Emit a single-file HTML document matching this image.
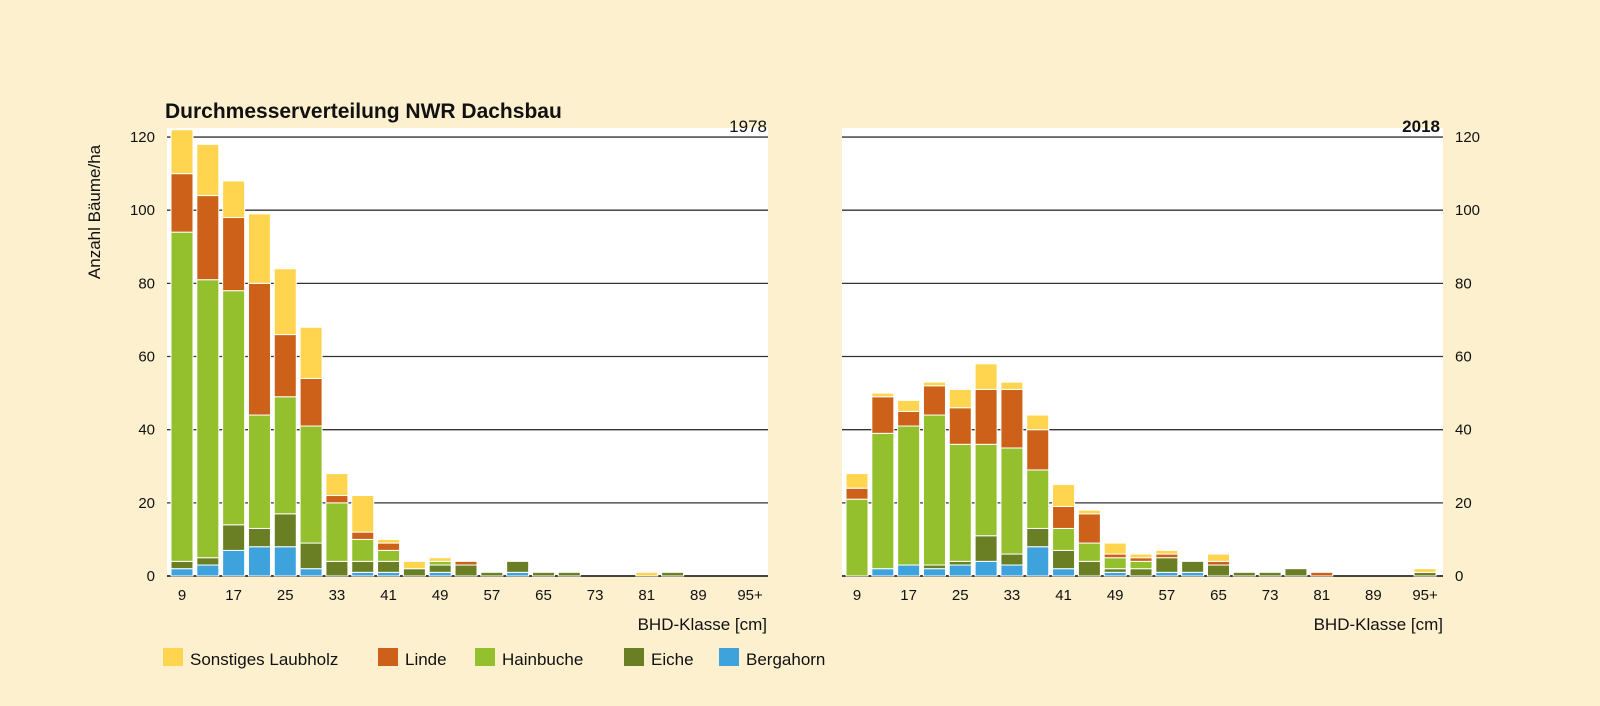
<!DOCTYPE html>
<html><head><meta charset="utf-8"><style>
html,body{margin:0;padding:0;background:#fdf0cf;}
svg{display:block;font-family:"Liberation Sans","DejaVu Sans",sans-serif;}
</style></head><body>
<svg id="s" width="1600" height="706" viewBox="0 0 1600 706" xmlns="http://www.w3.org/2000/svg">
<rect width="1600" height="706" fill="#fdf0cf"/>
<rect x="167" y="128" width="601" height="448" fill="#fff"/>
<rect x="842" y="128" width="601" height="448" fill="#fff"/>
<g id="grid"></g>
<g id="bars"></g>
<text x="165" y="118" font-size="21" font-weight="bold" fill="#111">Durchmesserverteilung NWR Dachsbau</text>
<text x="767" y="132" font-size="17" text-anchor="end" fill="#111">1978</text>
<text x="1440" y="132" font-size="17" text-anchor="end" font-weight="bold" fill="#111">2018</text>
<text transform="translate(100,212) rotate(-90)" font-size="17" text-anchor="middle" fill="#111">Anzahl Bäume/ha</text>
<text x="767" y="630" font-size="17" text-anchor="end" fill="#111">BHD-Klasse [cm]</text>
<text x="1443" y="630" font-size="17" text-anchor="end" fill="#111">BHD-Klasse [cm]</text>
<g font-size="17" fill="#111">
<rect x="163" y="648" width="20" height="18" fill="#ffd550"/><text x="190" y="665">Sonstiges Laubholz</text>
<rect x="378" y="648" width="20" height="18" fill="#cd6119"/><text x="405" y="665">Linde</text>
<rect x="475" y="648" width="20" height="18" fill="#95c02e"/><text x="502" y="665">Hainbuche</text>
<rect x="624" y="648" width="20" height="18" fill="#6a7f24"/><text x="651" y="665">Eiche</text>
<rect x="719" y="648" width="20" height="18" fill="#3ea2dc"/><text x="746" y="665">Bergahorn</text>
</g>
</svg>
<script>
var NS="http://www.w3.org/2000/svg";
function el(p,t,a){var e=document.createElementNS(NS,t);for(var k in a)e.setAttribute(k,a[k]);p.appendChild(e);return e;}
var grid=document.getElementById('grid'),bars=document.getElementById('bars');
function Y(v){return 576-v*3.658;}
for(var v=0;v<=120;v+=20){
 var y=Y(v);
 el(grid,'line',{x1:167,x2:768,y1:y,y2:y,stroke:v==0?'#444':'#333','stroke-width':v==0?2:1.3});
 el(grid,'line',{x1:842,x2:1443,y1:y,y2:y,stroke:v==0?'#444':'#333','stroke-width':v==0?2:1.3});
 var t=el(grid,'text',{x:155,y:y+5,'font-size':15,'text-anchor':'end',fill:'#111'});t.textContent=v;
 t=el(grid,'text',{x:1455,y:y+5,'font-size':15,fill:'#111'});t.textContent=v;
}
var cols=['#3ea2dc','#6a7f24','#95c02e','#cd6119','#ffd550'];
var L=[[2,4,94,110,122],[3,5,81,104,118],[7,14,78,98,108],[8,13,44,80,99],[8,17,49,66,84],[2,9,41,54,68],[0,4,20,22,28],[1,4,10,12,22],[1,4,7,9,10],[0,2,2,2,4],[1,3,4,4,5],[0,3,3,4,4],[0,1,1,1,1],[1,4,4,4,4],[0,1,1,1,1],[0,1,1,1,1],[0,0,0,0,0],[0,0,0,0,0],[0,0,0,0,1],[0,1,1,1,1],[0,0,0,0,0],[0,0,0,0,0],[0,0,0,0,0]];
var R=[[0,0,21,24,28],[2,2,39,49,50],[3,3,41,45,48],[2,3,44,52,53],[3,4,36,46,51],[4,11,36,51,58],[3,6,35,51,53],[8,13,29,40,44],[2,7,13,19,25],[0,4,9,17,18],[1,2,5,6,9],[0,2,4,5,6],[1,5,5,6,7],[1,4,4,4,4],[0,3,3,4,6],[0,1,1,1,1],[0,1,1,1,1],[0,2,2,2,2],[0,0,0,1,1],[0,0,0,0,0],[0,0,0,0,0],[0,0,0,0,0],[0,1,1,1,2]];
var labs=['9','','17','','25','','33','','41','','49','','57','','65','','73','','81','','89','','95+'];
function draw(D,x0){
 for(var i=0;i<D.length;i++){
  var cx=x0+i*25.82,prev=0;
  for(var j=0;j<5;j++){
   var v=D[i][j];
   if(v>prev){el(bars,'rect',{x:cx-11,y:Y(v),width:22,height:(v-prev)*3.658,fill:cols[j],stroke:'#fff','stroke-width':1});}
   prev=Math.max(prev,v);
  }
  if(labs[i]){var t=el(bars,'text',{x:cx,y:600,'font-size':15,'text-anchor':'middle',fill:'#111'});t.textContent=labs[i];}
 }
}
draw(L,182);draw(R,857);
</script>
</body></html>
